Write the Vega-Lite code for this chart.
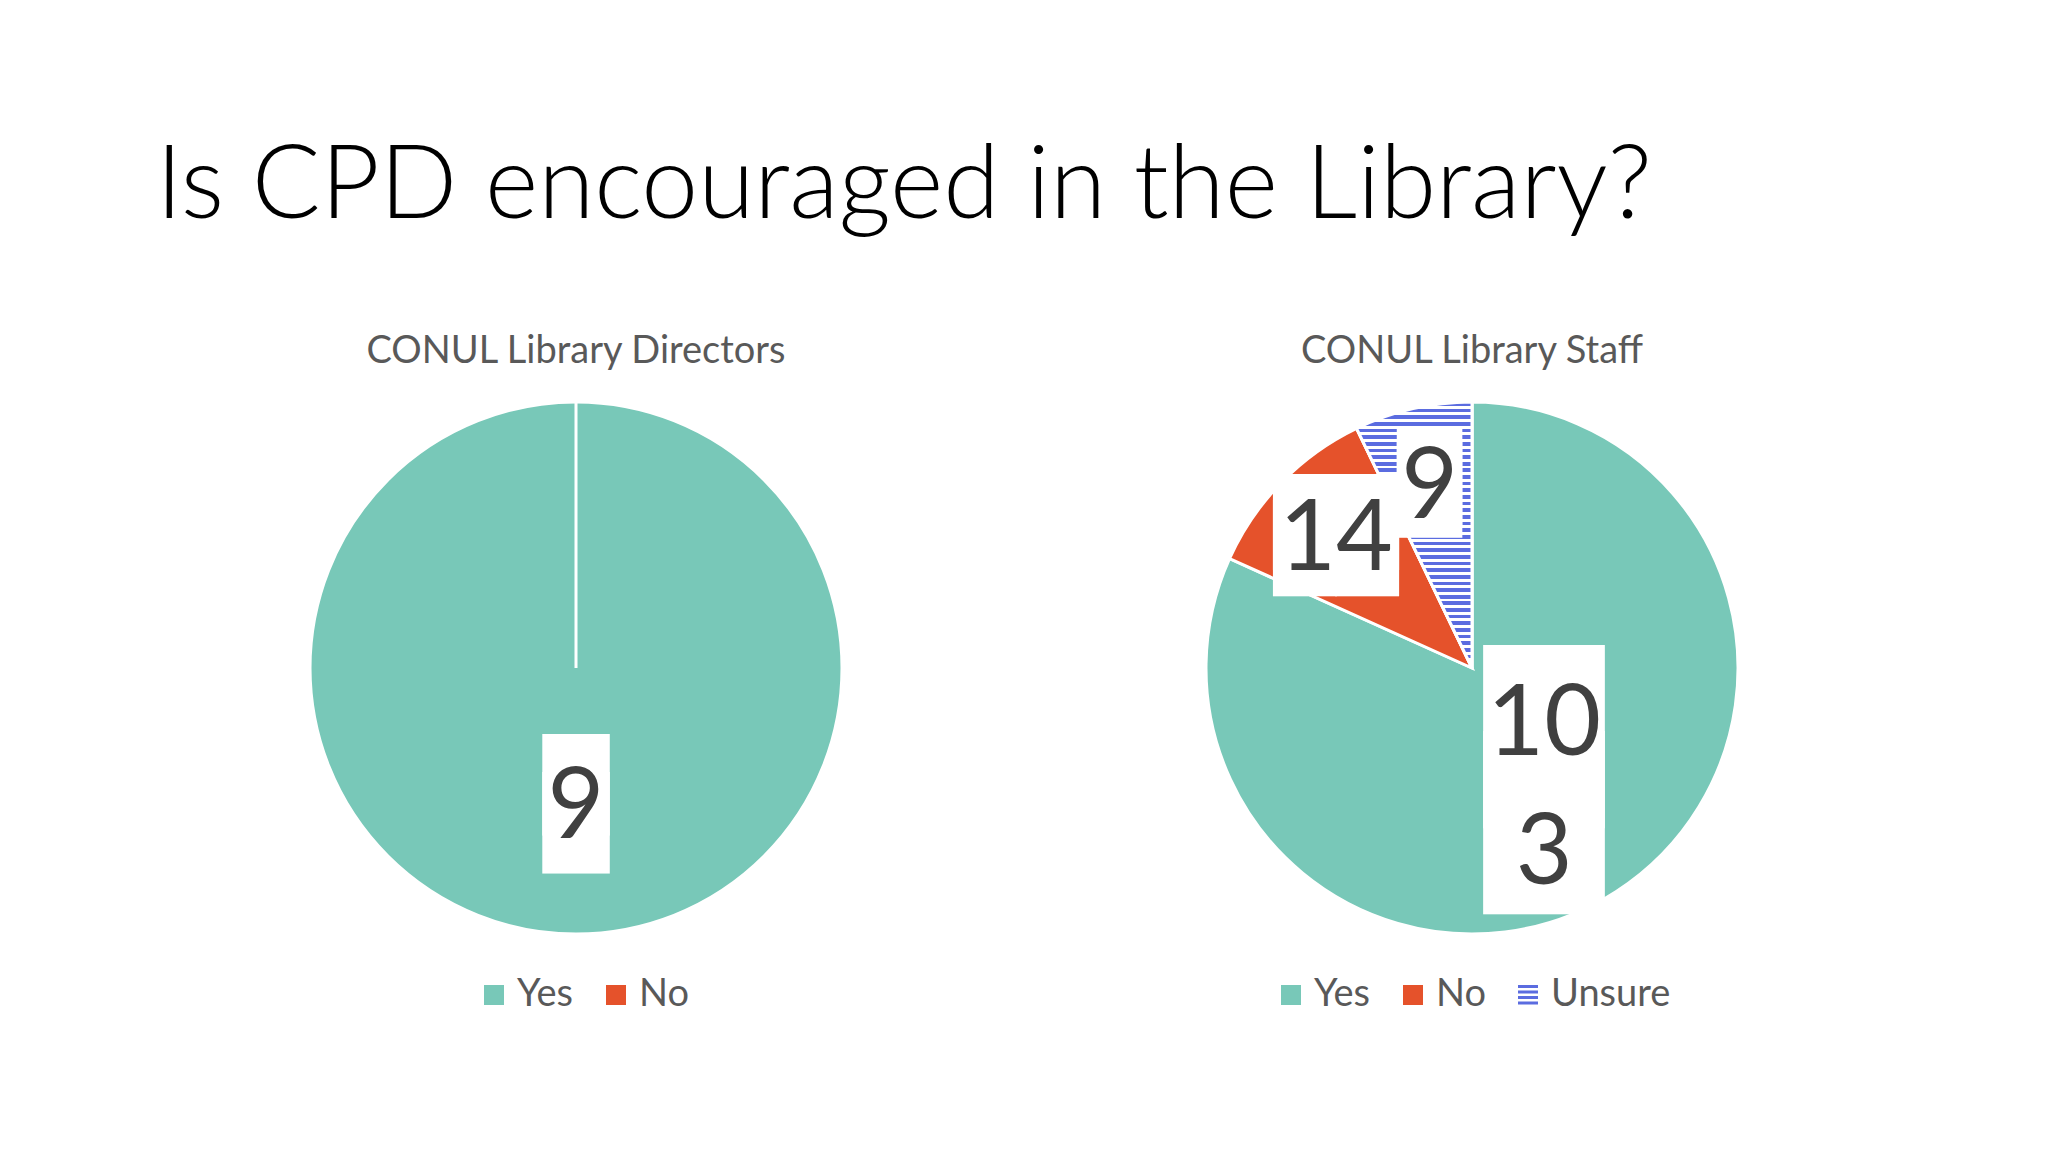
{
  "$schema": "https://vega.github.io/schema/vega-lite/v6.json",
  "background": "white",
  "padding": {"left": 136, "top": 136, "right": 0, "bottom": 0},
  "title": {
    "text": "Is CPD encouraged in the Library?",
    "anchor": "start",
    "font": "Lato",
    "fontWeight": 300,
    "fontSize": 102,
    "color": "#000000",
    "baseline": "top",
    "dx": 20,
    "offset": 94
  },
  "config": {
    "view": {"stroke": null},
    "font": "Lato",
    "concat": {"spacing": 16}
  },
  "hconcat": [
    {
      "width": 880,
      "height": 540,
      "title": {"text": "CONUL Library Directors", "font": "Lato", "fontSize": 38, "fontWeight": "normal", "color": "#595959", "baseline": "alphabetic", "offset": -5},
      "data": {"values": [
        {"cat": "Yes", "n": 9, "k": 1},
        {"cat": "No", "n": 0, "k": 2}
      ]},
      "encoding": {
        "theta": {"field": "n", "type": "quantitative", "stack": true},
        "order": {"field": "k", "type": "quantitative"}
      },
      "layer": [
        {
          "mark": {"type": "arc", "outerRadius": 266, "stroke": "white", "strokeWidth": 3},
          "encoding": {
            "color": {
              "field": "cat", "type": "nominal",
              "scale": {"domain": ["Yes", "No"], "range": ["#78C8B8", "#E5522B"]},
              "legend": {
                "title": null, "orient": "none", "legendX": 339, "legendY": 578, "direction": "horizontal", "padding": 0,
                "symbolType": "square", "symbolSize": 400, "symbolStrokeWidth": 0,
                "labelFont": "Lato", "labelFontSize": 38, "labelColor": "#595959",
                "labelOffset": 4, "columnPadding": 23
              }
            }
          }
        },
        {
          "mark": {"type": "text", "text": ["\u2588", "\u2588"], "font": "DejaVu Sans", "fontSize": 85.5, "lineHeight": 37.4, "radius": 135, "dy": -14.7, "fill": "white", "align": "center", "baseline": "middle"},
          "encoding": {
            "opacity": {"condition": {"test": "datum.cat === 'Yes'", "value": 1}, "value": 0}
          }
        },
        {
          "mark": {"type": "text", "font": "Lato", "fontSize": 98, "radius": 135, "dy": 6, "fill": "#404040", "align": "center", "baseline": "middle"},
          "encoding": {
            "text": {"field": "n", "type": "quantitative"},
            "opacity": {"condition": {"test": "datum.cat === 'Yes'", "value": 1}, "value": 0}
          }
        }
      ]
    },
    {
      "width": 880,
      "height": 540,
      "title": {"text": "CONUL Library Staff", "font": "Lato", "fontSize": 38, "fontWeight": "normal", "color": "#595959", "baseline": "alphabetic", "offset": -5},
      "data": {"values": [
        {"cat": "Yes", "n": 103, "k": 1},
        {"cat": "No", "n": 14, "k": 2},
        {"cat": "Unsure", "n": 9, "k": 3}
      ]},
      "layer": [
        {
          "mark": {"type": "arc", "outerRadius": 266, "stroke": "white", "strokeWidth": 3},
          "encoding": {
            "theta": {"field": "n", "type": "quantitative", "stack": true},
            "order": {"field": "k", "type": "quantitative"},
            "color": {
              "field": "cat", "type": "nominal",
              "scale": {"domain": ["Yes", "No", "Unsure"], "range": ["#78C8B8", "#E5522B", "#5B6CE0"]},
              "legend": {
                "title": null, "orient": "none", "legendX": 240, "legendY": 578, "direction": "horizontal", "padding": 0,
                "symbolType": "square", "symbolSize": 400, "symbolStrokeWidth": 0, "symbolOpacity": 1,
                "labelFont": "Lato", "labelFontSize": 38, "labelColor": "#595959",
                "labelOffset": 4, "columnPadding": 23
              }
            }
          }
        },
        {
          "mark": {"type": "point", "filled": true, "opacity": 0},
          "encoding": {
            "color": {
              "field": "cat", "type": "nominal",
              "scale": {"domain": ["Yes", "No", "Unsure"], "range": ["#78C8B8", "#E5522B", "#5B6CE0"]},
              "legend": {
                "title": null, "orient": "none", "legendX": 240, "legendY": 578, "direction": "horizontal", "padding": 0,
                "symbolType": "square", "symbolSize": 400, "symbolStrokeWidth": 0, "symbolOpacity": 1,
                "labelFont": "Lato", "labelFontSize": 38, "labelColor": "#595959",
                "labelOffset": 4, "columnPadding": 23
              }
            },
            "shape": {
              "field": "cat", "type": "nominal",
              "scale": {"domain": ["Yes", "No", "Unsure"], "range": ["square", "square", "M-1,-1H1V-0.7H-1Z M-1,-0.45H1V-0.15H-1Z M-1,0.1H1V0.4H-1Z M-1,0.65H1V0.95H-1Z"]},
              "legend": {
                "title": null, "orient": "none", "legendX": 240, "legendY": 578, "direction": "horizontal", "padding": 0,
                "symbolType": "square", "symbolSize": 400, "symbolStrokeWidth": 0, "symbolOpacity": 1,
                "labelFont": "Lato", "labelFontSize": 38, "labelColor": "#595959",
                "labelOffset": 4, "columnPadding": 23
              }
            }
          }
        },
        {
          "mark": {"type": "arc", "outerRadius": 266, "stroke": "white", "strokeWidth": 3,
            "fill": {"gradient": "linear", "x1": 0, "y1": 0, "x2": 0, "y2": 1, "stops": [
              {"offset": 0, "color": "#5B6CE0"}, {"offset": 0.01375, "color": "#5B6CE0"}, {"offset": 0.01375, "color": "white"}, {"offset": 0.025, "color": "white"},
              {"offset": 0.025, "color": "#5B6CE0"}, {"offset": 0.03875, "color": "#5B6CE0"}, {"offset": 0.03875, "color": "white"}, {"offset": 0.05, "color": "white"},
              {"offset": 0.05, "color": "#5B6CE0"}, {"offset": 0.06375, "color": "#5B6CE0"}, {"offset": 0.06375, "color": "white"}, {"offset": 0.075, "color": "white"},
              {"offset": 0.075, "color": "#5B6CE0"}, {"offset": 0.08875, "color": "#5B6CE0"}, {"offset": 0.08875, "color": "white"}, {"offset": 0.1, "color": "white"},
              {"offset": 0.1, "color": "#5B6CE0"}, {"offset": 0.11375, "color": "#5B6CE0"}, {"offset": 0.11375, "color": "white"}, {"offset": 0.125, "color": "white"},
              {"offset": 0.125, "color": "#5B6CE0"}, {"offset": 0.13875, "color": "#5B6CE0"}, {"offset": 0.13875, "color": "white"}, {"offset": 0.15, "color": "white"},
              {"offset": 0.15, "color": "#5B6CE0"}, {"offset": 0.16375, "color": "#5B6CE0"}, {"offset": 0.16375, "color": "white"}, {"offset": 0.175, "color": "white"},
              {"offset": 0.175, "color": "#5B6CE0"}, {"offset": 0.18875, "color": "#5B6CE0"}, {"offset": 0.18875, "color": "white"}, {"offset": 0.2, "color": "white"},
              {"offset": 0.2, "color": "#5B6CE0"}, {"offset": 0.21375, "color": "#5B6CE0"}, {"offset": 0.21375, "color": "white"}, {"offset": 0.225, "color": "white"},
              {"offset": 0.225, "color": "#5B6CE0"}, {"offset": 0.23875, "color": "#5B6CE0"}, {"offset": 0.23875, "color": "white"}, {"offset": 0.25, "color": "white"},
              {"offset": 0.25, "color": "#5B6CE0"}, {"offset": 0.26375, "color": "#5B6CE0"}, {"offset": 0.26375, "color": "white"}, {"offset": 0.275, "color": "white"},
              {"offset": 0.275, "color": "#5B6CE0"}, {"offset": 0.28875, "color": "#5B6CE0"}, {"offset": 0.28875, "color": "white"}, {"offset": 0.3, "color": "white"},
              {"offset": 0.3, "color": "#5B6CE0"}, {"offset": 0.31375, "color": "#5B6CE0"}, {"offset": 0.31375, "color": "white"}, {"offset": 0.325, "color": "white"},
              {"offset": 0.325, "color": "#5B6CE0"}, {"offset": 0.33875, "color": "#5B6CE0"}, {"offset": 0.33875, "color": "white"}, {"offset": 0.35, "color": "white"},
              {"offset": 0.35, "color": "#5B6CE0"}, {"offset": 0.36375, "color": "#5B6CE0"}, {"offset": 0.36375, "color": "white"}, {"offset": 0.375, "color": "white"},
              {"offset": 0.375, "color": "#5B6CE0"}, {"offset": 0.38875, "color": "#5B6CE0"}, {"offset": 0.38875, "color": "white"}, {"offset": 0.4, "color": "white"},
              {"offset": 0.4, "color": "#5B6CE0"}, {"offset": 0.41375, "color": "#5B6CE0"}, {"offset": 0.41375, "color": "white"}, {"offset": 0.425, "color": "white"},
              {"offset": 0.425, "color": "#5B6CE0"}, {"offset": 0.43875, "color": "#5B6CE0"}, {"offset": 0.43875, "color": "white"}, {"offset": 0.45, "color": "white"},
              {"offset": 0.45, "color": "#5B6CE0"}, {"offset": 0.46375, "color": "#5B6CE0"}, {"offset": 0.46375, "color": "white"}, {"offset": 0.475, "color": "white"},
              {"offset": 0.475, "color": "#5B6CE0"}, {"offset": 0.48875, "color": "#5B6CE0"}, {"offset": 0.48875, "color": "white"}, {"offset": 0.5, "color": "white"},
              {"offset": 0.5, "color": "#5B6CE0"}, {"offset": 0.51375, "color": "#5B6CE0"}, {"offset": 0.51375, "color": "white"}, {"offset": 0.525, "color": "white"},
              {"offset": 0.525, "color": "#5B6CE0"}, {"offset": 0.53875, "color": "#5B6CE0"}, {"offset": 0.53875, "color": "white"}, {"offset": 0.55, "color": "white"},
              {"offset": 0.55, "color": "#5B6CE0"}, {"offset": 0.56375, "color": "#5B6CE0"}, {"offset": 0.56375, "color": "white"}, {"offset": 0.575, "color": "white"},
              {"offset": 0.575, "color": "#5B6CE0"}, {"offset": 0.58875, "color": "#5B6CE0"}, {"offset": 0.58875, "color": "white"}, {"offset": 0.6, "color": "white"},
              {"offset": 0.6, "color": "#5B6CE0"}, {"offset": 0.61375, "color": "#5B6CE0"}, {"offset": 0.61375, "color": "white"}, {"offset": 0.625, "color": "white"},
              {"offset": 0.625, "color": "#5B6CE0"}, {"offset": 0.63875, "color": "#5B6CE0"}, {"offset": 0.63875, "color": "white"}, {"offset": 0.65, "color": "white"},
              {"offset": 0.65, "color": "#5B6CE0"}, {"offset": 0.66375, "color": "#5B6CE0"}, {"offset": 0.66375, "color": "white"}, {"offset": 0.675, "color": "white"},
              {"offset": 0.675, "color": "#5B6CE0"}, {"offset": 0.68875, "color": "#5B6CE0"}, {"offset": 0.68875, "color": "white"}, {"offset": 0.7, "color": "white"},
              {"offset": 0.7, "color": "#5B6CE0"}, {"offset": 0.71375, "color": "#5B6CE0"}, {"offset": 0.71375, "color": "white"}, {"offset": 0.725, "color": "white"},
              {"offset": 0.725, "color": "#5B6CE0"}, {"offset": 0.73875, "color": "#5B6CE0"}, {"offset": 0.73875, "color": "white"}, {"offset": 0.75, "color": "white"},
              {"offset": 0.75, "color": "#5B6CE0"}, {"offset": 0.76375, "color": "#5B6CE0"}, {"offset": 0.76375, "color": "white"}, {"offset": 0.775, "color": "white"},
              {"offset": 0.775, "color": "#5B6CE0"}, {"offset": 0.78875, "color": "#5B6CE0"}, {"offset": 0.78875, "color": "white"}, {"offset": 0.8, "color": "white"},
              {"offset": 0.8, "color": "#5B6CE0"}, {"offset": 0.81375, "color": "#5B6CE0"}, {"offset": 0.81375, "color": "white"}, {"offset": 0.825, "color": "white"},
              {"offset": 0.825, "color": "#5B6CE0"}, {"offset": 0.83875, "color": "#5B6CE0"}, {"offset": 0.83875, "color": "white"}, {"offset": 0.85, "color": "white"},
              {"offset": 0.85, "color": "#5B6CE0"}, {"offset": 0.86375, "color": "#5B6CE0"}, {"offset": 0.86375, "color": "white"}, {"offset": 0.875, "color": "white"},
              {"offset": 0.875, "color": "#5B6CE0"}, {"offset": 0.88875, "color": "#5B6CE0"}, {"offset": 0.88875, "color": "white"}, {"offset": 0.9, "color": "white"},
              {"offset": 0.9, "color": "#5B6CE0"}, {"offset": 0.91375, "color": "#5B6CE0"}, {"offset": 0.91375, "color": "white"}, {"offset": 0.925, "color": "white"},
              {"offset": 0.925, "color": "#5B6CE0"}, {"offset": 0.93875, "color": "#5B6CE0"}, {"offset": 0.93875, "color": "white"}, {"offset": 0.95, "color": "white"},
              {"offset": 0.95, "color": "#5B6CE0"}, {"offset": 0.96375, "color": "#5B6CE0"}, {"offset": 0.96375, "color": "white"}, {"offset": 0.975, "color": "white"},
              {"offset": 0.975, "color": "#5B6CE0"}, {"offset": 0.98875, "color": "#5B6CE0"}, {"offset": 0.98875, "color": "white"}, {"offset": 1, "color": "white"}
            ]}
          },
          "encoding": {
            "theta": {"field": "n", "type": "quantitative", "stack": true},
            "order": {"field": "k", "type": "quantitative"},
            "opacity": {"condition": {"test": "datum.cat === 'Unsure'", "value": 1}, "value": 0}
          }
        },
        {
          "mark": {"type": "text", "text": ["\u2588", "\u2588"], "font": "DejaVu Sans", "fontSize": 154.3, "lineHeight": 85.4, "radius": 133, "dy": -35.5, "fill": "white", "align": "center", "baseline": "middle"},
          "encoding": {
            "theta": {"field": "n", "type": "quantitative", "stack": true},
            "order": {"field": "k", "type": "quantitative"},
            "opacity": {"condition": {"test": "datum.cat === 'Yes'", "value": 1}, "value": 0}
          }
        },
        {
          "mark": {"type": "text", "text": ["\u2588\u2588", "\u2588\u2588"], "font": "DejaVu Sans", "fontSize": 81, "lineHeight": 25.7, "radius": 190, "dy": -9, "fill": "white", "align": "center", "baseline": "middle"},
          "encoding": {
            "theta": {"field": "n", "type": "quantitative", "stack": true},
            "order": {"field": "k", "type": "quantitative"},
            "opacity": {"condition": {"test": "datum.cat === 'No'", "value": 1}, "value": 0}
          }
        },
        {
          "mark": {"type": "text", "text": ["\u2588", "\u2588"], "font": "DejaVu Sans", "fontSize": 83, "lineHeight": 11.3, "radius": 190, "dy": -2, "fill": "white", "align": "center", "baseline": "middle"},
          "encoding": {
            "theta": {"field": "n", "type": "quantitative", "stack": true},
            "order": {"field": "k", "type": "quantitative"},
            "opacity": {"condition": {"test": "datum.cat === 'Unsure'", "value": 1}, "value": 0}
          }
        },
        {
          "mark": {"type": "text", "font": "Lato", "fontSize": 98, "radius": 133, "dy": -53.5, "lineHeight": 129, "lineBreak": {"expr": "regexp('(?<=^..)')"}, "fill": "#404040", "align": "center", "baseline": "middle"},
          "encoding": {
            "theta": {"field": "n", "type": "quantitative", "stack": true},
            "order": {"field": "k", "type": "quantitative"},
            "text": {"field": "n", "type": "quantitative"},
            "opacity": {"condition": {"test": "datum.cat === 'Yes'", "value": 1}, "value": 0}
          }
        },
        {
          "mark": {"type": "text", "font": "Lato", "fontSize": 98, "radius": 190, "dy": 6, "fill": "#404040", "align": "center", "baseline": "middle"},
          "encoding": {
            "theta": {"field": "n", "type": "quantitative", "stack": true},
            "order": {"field": "k", "type": "quantitative"},
            "text": {"field": "n", "type": "quantitative"},
            "opacity": {"condition": {"test": "datum.cat !== 'Yes'", "value": 1}, "value": 0}
          }
        }
      ]
    }
  ],
  "resolve": {"scale": {"color": "independent", "theta": "independent", "shape": "independent"}}
}
